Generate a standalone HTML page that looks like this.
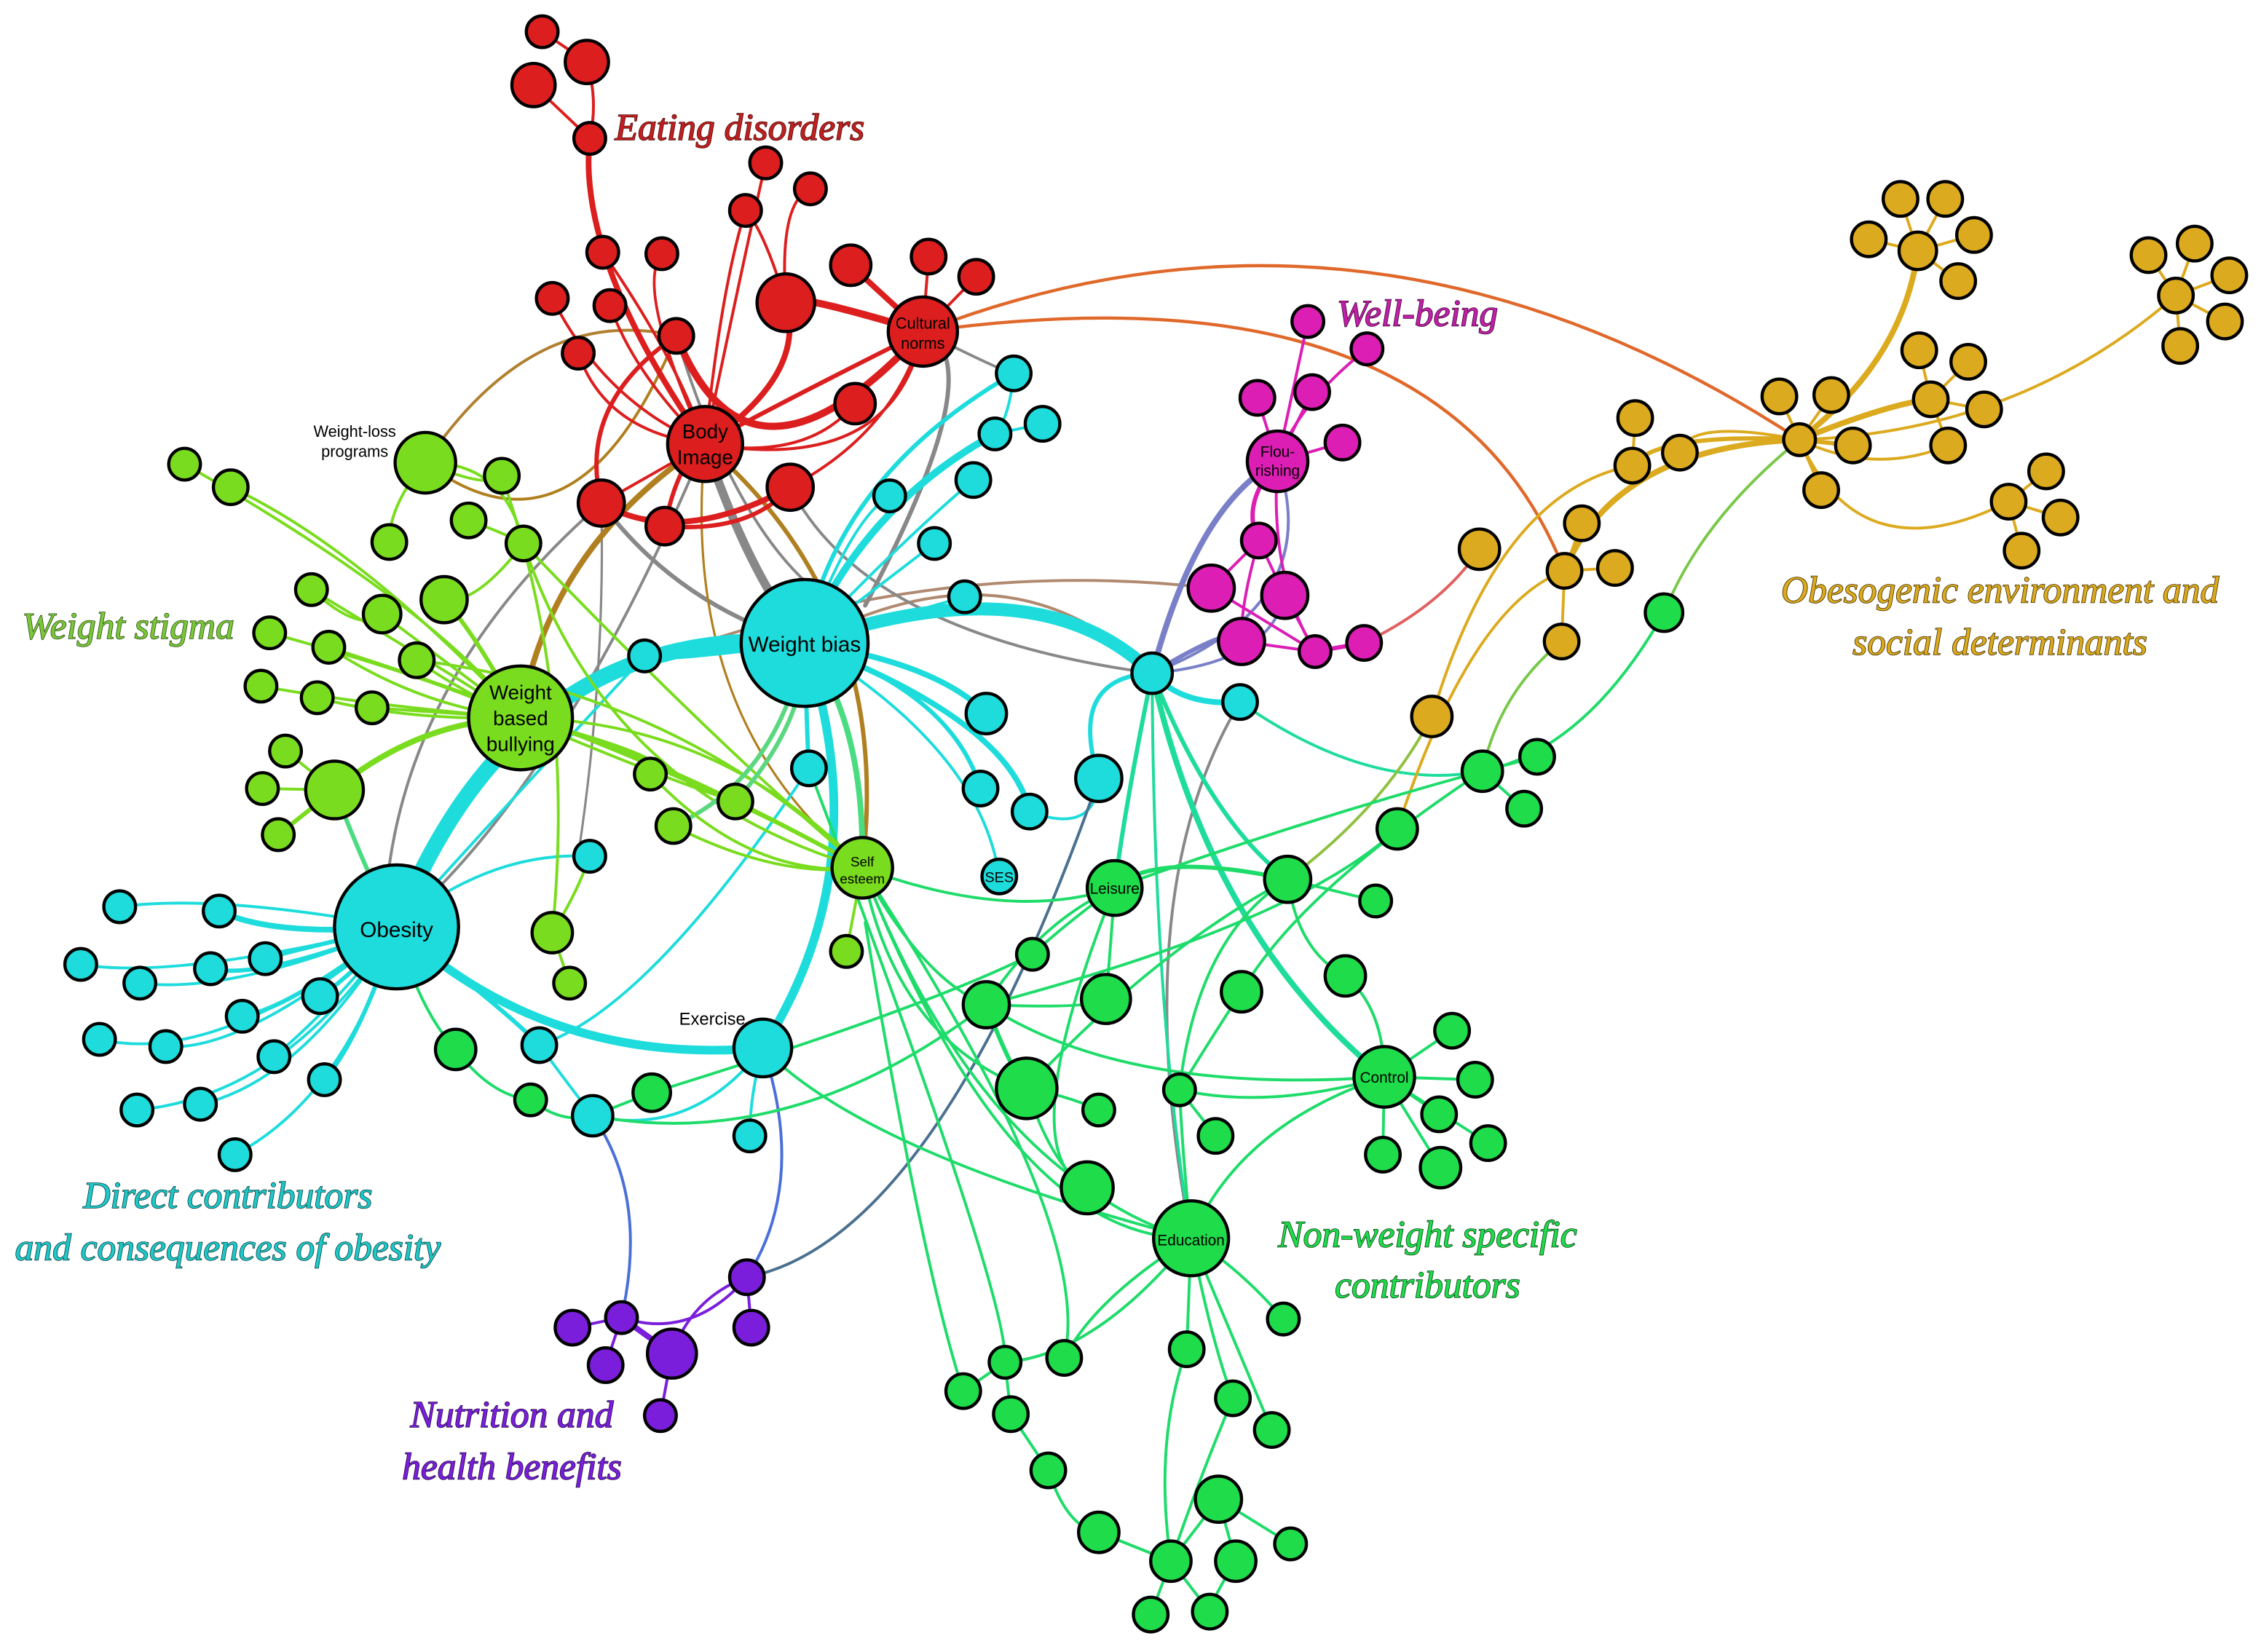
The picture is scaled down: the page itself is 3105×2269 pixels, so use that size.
<!DOCTYPE html>
<html><head><meta charset="utf-8"><style>
html,body{margin:0;padding:0;background:#fff;}
svg{display:block;}
.n{stroke:#000;stroke-width:2.2;}
.R{fill:#dc1e1e}.M{fill:#dc1eb4}.G{fill:#dcaa1e}.C{fill:#1edcdc}.L{fill:#7adc1e}.E{fill:#1edc4a}.P{fill:#7a1edc}
.t{font-family:"Liberation Sans",sans-serif;fill:#000;text-anchor:middle;}
.lab{font-family:"Liberation Serif",serif;font-style:italic;text-anchor:middle;stroke-width:0.8;paint-order:stroke;}
path{fill:none;}
</style></head><body>
<svg width="3105" height="2269" viewBox="0 0 1568 1146" preserveAspectRatio="none" xmlns="http://www.w3.org/2000/svg">
<!-- edges -->
<g stroke-linecap="round">
<!-- orange long -->
<path d="M640,230 Q950,110 1248,305" stroke="#e0682a" stroke-width="2.2"/>
<path d="M640,230 Q1000,180 1085,396" stroke="#e0682a" stroke-width="2.2"/>
<path d="M295,321 Q370,210 469,233" stroke="#b08030" stroke-width="2"/>
<path d="M799,467 Q700,370 558,446" stroke="#b08a70" stroke-width="2"/>
<path d="M361,498 Q600,380 840,408" stroke="#b08a70" stroke-width="2"/>
<!-- gray -->
<path d="M489,308 Q520,400 558,446" stroke="#888" stroke-width="6"/>
<path d="M640,230 Q690,250 600,420" stroke="#888" stroke-width="3"/>
<path d="M640,230 Q700,260 703,259" stroke="#888" stroke-width="2"/>
<path d="M417,349 Q470,420 558,446" stroke="#888" stroke-width="3"/>
<path d="M417,349 Q290,460 270,600" stroke="#888" stroke-width="2"/>
<path d="M469,233 Q520,400 600,430" stroke="#888" stroke-width="2"/>
<path d="M548,338 Q600,440 799,467" stroke="#888" stroke-width="2"/>
<path d="M489,308 Q400,520 300,620" stroke="#888" stroke-width="2"/>
<path d="M860,487 Q780,620 826,859" stroke="#888" stroke-width="2"/>
<path d="M417,349 Q420,470 400,600" stroke="#888" stroke-width="1.6"/>
<!-- brown thick -->
<path d="M489,308 Q380,380 361,498" stroke="#b08020" stroke-width="4"/>
<path d="M489,308 Q620,420 598,602" stroke="#b08020" stroke-width="3"/>
<path d="M295,321 Q400,400 469,233" stroke="#b08020" stroke-width="2"/>
<path d="M489,308 Q470,500 598,602" stroke="#b08020" stroke-width="1.6"/>
<!-- red -->
<g stroke="#dc1e1e" stroke-width="2">
<path d="M409,96 Q400,180 489,308" stroke-width="4"/>
<path d="M376,22 L407,43"/><path d="M370,59 L409,96"/><path d="M407,43 Q415,70 409,96"/>
<path d="M545,210 Q560,260 489,308" stroke-width="4"/>
<path d="M640,230 Q540,280 489,308" stroke-width="3"/>
<path d="M640,230 Q540,200 545,210" stroke-width="5"/>
<path d="M469,233 Q520,360 640,230" stroke-width="5"/>
<path d="M640,230 L590,184" stroke-width="4"/><path d="M640,230 L644,178"/><path d="M640,230 L677,192"/>
<path d="M640,230 Q620,330 489,308"/><path d="M593,280 Q560,320 489,308"/>
<path d="M548,338 Q620,300 640,230"/>
<path d="M489,308 Q470,250 418,175"/><path d="M489,308 Q420,280 383,207"/><path d="M489,308 Q420,300 401,245"/>
<path d="M489,308 Q440,260 423,212"/><path d="M489,308 Q440,200 459,176"/>
<path d="M489,308 Q520,160 531,113"/><path d="M489,308 Q500,200 517,146"/><path d="M545,210 Q540,140 562,131"/>
<path d="M545,210 Q530,160 517,146"/>
<path d="M417,349 Q400,280 469,233" stroke-width="3"/>
<path d="M417,349 Q470,380 548,338" stroke-width="4"/>
<path d="M461,365 Q470,320 489,308" stroke-width="3"/>
<path d="M417,349 L489,308"/><path d="M461,365 Q520,370 548,338" stroke-width="3"/>
</g>
<!-- cyan thick -->
<g stroke="#1edcdc">
<path d="M275,643 Q360,430 558,446" stroke-width="11"/>
<path d="M558,446 Q720,390 799,467" stroke-width="9"/>
<path d="M558,446 Q610,600 529,727" stroke-width="6"/>
<path d="M275,643 Q380,740 529,727" stroke-width="6"/>
<path d="M275,643 Q350,700 374,725" stroke-width="3"/>
<path d="M558,446 Q580,330 703,259" stroke-width="3"/>
<path d="M558,446 Q600,350 690,301" stroke-width="5"/>
<path d="M558,446 Q620,380 675,333" stroke-width="2"/>
<path d="M558,446 Q590,360 617,344" stroke-width="2"/>
<path d="M558,446 L648,377" stroke-width="2"/><path d="M558,446 L669,414" stroke-width="2"/>
<path d="M558,446 Q650,460 684,495" stroke-width="4"/>
<path d="M558,446 Q660,480 680,547" stroke-width="3"/>
<path d="M558,446 Q700,500 714,563" stroke-width="4"/>
<path d="M558,446 Q450,460 447,455" stroke-width="3"/>
<path d="M558,446 Q560,520 561,533" stroke-width="3"/>
<path d="M558,446 Q680,520 693,608" stroke-width="2"/>
<path d="M799,467 Q820,490 860,487" stroke-width="4"/>
<path d="M762,540 Q740,470 799,467" stroke-width="3"/>
<path d="M714,563 Q760,580 762,540" stroke-width="2"/>
<path d="M703,259 Q700,290 690,301" stroke-width="2"/><path d="M723,294 L690,301" stroke-width="2"/>
<path d="M275,643 Q350,560 447,455" stroke-width="2"/>
<path d="M275,643 Q340,590 409,594" stroke-width="2"/>
<path d="M374,725 Q450,700 561,533" stroke-width="2"/>
<path d="M374,725 Q400,760 411,774" stroke-width="2"/>
<path d="M411,774 Q480,790 529,727" stroke-width="2"/>
<path d="M529,727 Q520,760 520,788" stroke-width="2"/>
<path d="M860,487 Q950,550 1028,535" stroke-width="2" stroke="#1edc9a"/>
<path d="M275,643 Q150,620 83,629" stroke-width="2"/>
<path d="M275,643 Q190,650 152,632" stroke-width="4"/>
<path d="M275,643 Q120,680 56,669" stroke-width="2"/>
<path d="M275,643 Q160,690 97,682" stroke-width="2"/>
<path d="M275,643 Q180,680 146,672" stroke-width="3"/>
<path d="M275,643 Q200,660 184,665" stroke-width="3"/>
<path d="M275,643 Q240,680 222,691" stroke-width="3"/>
<path d="M275,643 Q200,700 168,705" stroke-width="3"/>
<path d="M275,643 Q150,740 69,721" stroke-width="2"/>
<path d="M275,643 Q170,730 115,726" stroke-width="2"/>
<path d="M275,643 Q230,700 190,733" stroke-width="2"/>
<path d="M275,643 Q250,720 225,749" stroke-width="3"/>
<path d="M275,643 Q200,760 95,770" stroke-width="2"/>
<path d="M275,643 Q210,750 139,766" stroke-width="2"/>
<path d="M275,643 Q240,760 163,801" stroke-width="2"/>
</g>
<!-- blue/purple -->
<path d="M799,467 Q830,350 886,320" stroke="#7a80c8" stroke-width="4"/>
<path d="M799,467 Q860,430 861,445" stroke="#7a80c8" stroke-width="3"/>
<path d="M799,467 Q880,460 891,413" stroke="#7a80c8" stroke-width="2"/>
<path d="M799,467 Q920,420 886,320" stroke="#7a80c8" stroke-width="2"/>
<path d="M411,774 Q450,830 431,914" stroke="#4a70d8" stroke-width="2"/>
<path d="M529,727 Q560,820 518,886" stroke="#4a70d8" stroke-width="2"/>
<path d="M518,886 Q650,860 762,540" stroke="#4a7090" stroke-width="2"/>
<g stroke="#7a1edc" stroke-width="2">
<path d="M431,914 Q480,930 518,886"/><path d="M431,914 L466,939" stroke-width="4"/>
<path d="M397,921 L431,914"/><path d="M420,947 L431,914"/><path d="M466,939 Q480,900 518,886"/>
<path d="M518,886 L521,921"/><path d="M466,939 L458,982"/>
</g>
<!-- magenta -->
<g stroke="#dc1eb4" stroke-width="2">
<path d="M886,320 L907,223"/><path d="M886,320 Q900,280 948,242"/><path d="M886,320 L872,276"/><path d="M886,320 L910,272"/>
<path d="M886,320 L931,307"/><path d="M886,320 Q860,350 873,375" stroke-width="3"/>
<path d="M873,375 L840,408"/><path d="M873,375 L891,413"/><path d="M873,375 Q860,420 861,445"/>
<path d="M840,408 L912,452"/><path d="M891,413 L912,452"/><path d="M861,445 L912,452"/><path d="M912,452 L946,446" stroke-width="3"/>
<path d="M886,320 Q880,400 912,452"/>
</g>
<path d="M946,446 Q1000,420 1026,381" stroke="#e06060" stroke-width="2"/>
<!-- gold -->
<g stroke="#dcaa1e" stroke-width="2">
<path d="M1248,305 Q1320,250 1330,174" stroke-width="4"/>
<path d="M1330,174 L1318,138"/><path d="M1330,174 L1349,138"/><path d="M1330,174 L1296,166"/><path d="M1330,174 L1369,163"/><path d="M1330,174 L1358,195"/>
<path d="M1248,305 Q1310,280 1339,277" stroke-width="4"/>
<path d="M1339,277 L1331,243"/><path d="M1339,277 L1365,251"/><path d="M1339,277 L1376,284"/><path d="M1339,277 L1351,309"/>
<path d="M1248,305 Q1300,330 1351,309"/>
<path d="M1248,305 Q1400,300 1509,205"/>
<path d="M1509,205 L1490,177"/><path d="M1509,205 L1522,169"/><path d="M1509,205 L1546,191"/><path d="M1509,205 L1543,223"/><path d="M1509,205 L1512,240"/>
<path d="M1248,305 L1234,275"/><path d="M1248,305 L1270,274"/><path d="M1248,305 L1285,309" stroke-width="3"/><path d="M1248,305 L1263,340"/>
<path d="M1248,305 Q1290,400 1393,348"/>
<path d="M1393,348 L1419,327"/><path d="M1393,348 L1429,359"/><path d="M1393,348 L1402,382"/>
<path d="M1248,305 Q1150,300 1132,323" stroke-width="3"/>
<path d="M1248,305 Q1170,290 1165,314" stroke-width="2"/>
<path d="M1132,323 L1134,290"/>
<path d="M1248,305 Q1120,310 1085,396" stroke-width="4"/>
<path d="M1097,363 L1085,396"/><path d="M1120,394 L1085,396"/><path d="M1085,396 L1083,445"/>
<path d="M1132,323 Q1040,340 993,497"/>
<path d="M1085,396 Q1020,420 969,575"/>
</g>
<path d="M1248,305 Q1180,360 1154,425" stroke="#7ac84a" stroke-width="2"/>
<path d="M1083,445 Q1040,480 1028,535" stroke="#7ac84a" stroke-width="2"/>
<path d="M893,610 Q960,560 993,497" stroke="#90c040" stroke-width="2"/>
<!-- emerald green -->
<g stroke="#1edc6a" stroke-width="2">
<path d="M799,467 Q840,650 960,747" stroke="#1edc9a" stroke-width="4"/>
<path d="M799,467 Q780,560 773,616" stroke="#1edc9a" stroke-width="3"/>
<path d="M799,467 Q840,570 893,610" stroke="#1edc9a" stroke-width="3"/>
<path d="M799,467 Q800,700 826,859" stroke="#1edc9a" stroke-width="2"/>
<path d="M1154,425 Q1100,520 1028,535"/><path d="M1028,535 L1066,525"/><path d="M1028,535 L1057,561"/>
<path d="M1028,535 Q900,570 773,616"/><path d="M1028,535 Q900,620 861,688"/>
<path d="M969,575 Q900,640 684,697"/>
<path d="M893,610 L954,625"/><path d="M893,610 Q900,660 933,677"/><path d="M893,610 Q800,590 773,616" stroke-width="3"/>
<path d="M893,610 Q830,650 818,756"/><path d="M893,610 Q800,660 712,755"/>
<path d="M933,677 Q960,700 960,747"/>
<path d="M773,616 Q720,640 684,697"/><path d="M773,616 Q770,660 767,693"/><path d="M773,616 Q740,640 716,662"/>
<path d="M773,616 Q700,800 754,824"/>
<path d="M684,697 Q760,700 767,693"/><path d="M684,697 Q700,740 712,755" stroke-width="3"/>
<path d="M684,697 Q780,760 960,747"/>
<path d="M712,755 Q740,760 762,770"/><path d="M712,755 Q730,810 754,824"/>
<path d="M818,756 L843,788"/><path d="M818,756 Q820,800 826,859"/>
<path d="M818,756 Q880,770 960,747"/><path d="M861,688 Q840,720 818,756"/>
<path d="M960,747 L1007,715"/><path d="M960,747 L1023,749"/><path d="M960,747 L998,773"/><path d="M960,747 L1032,793"/><path d="M960,747 L959,801"/><path d="M960,747 L999,810"/>
<path d="M960,747 Q860,780 826,859"/>
<path d="M826,859 Q860,880 890,915"/>
<path d="M826,859 Q760,900 738,942"/><path d="M826,859 L823,936"/><path d="M826,859 Q840,930 855,970"/>
<path d="M826,859 Q860,940 882,992"/>
<path d="M826,859 Q760,940 697,945"/>
<path d="M754,824 Q790,850 826,859"/>
<path d="M697,945 L668,965"/><path d="M697,945 L701,981"/><path d="M701,981 L727,1020"/>
<path d="M855,970 Q830,1030 812,1083"/><path d="M823,936 Q800,1000 812,1083"/>
<path d="M845,1040 L857,1083"/><path d="M845,1040 L812,1083"/><path d="M845,1040 L895,1071"/>
<path d="M812,1083 L798,1120"/><path d="M812,1083 L839,1118"/><path d="M762,1063 L812,1083"/>
<path d="M727,1020 Q740,1060 762,1063"/><path d="M857,1083 Q840,1110 839,1118"/>
<path d="M598,602 Q700,640 773,616"/><path d="M598,602 Q640,680 684,697"/>
<path d="M598,602 Q660,760 754,824"/><path d="M598,602 Q700,860 826,859"/>
<path d="M598,602 Q620,720 712,755"/>
<path d="M529,727 Q600,800 826,859"/>
<path d="M411,774 Q550,800 684,697"/>
<path d="M452,758 Q640,700 716,662"/>
<path d="M316,728 Q340,760 368,763"/><path d="M368,763 Q390,780 411,774"/><path d="M411,774 L452,758"/>
<path d="M275,643 Q290,700 316,728"/>
<path d="M561,533 Q700,900 697,945"/>
<path d="M598,602 Q760,850 738,942"/>
<path d="M668,965 Q640,880 600,640"/>
</g>
<!-- lime -->
<g stroke="#7adc1e" stroke-width="2">
<path d="M361,498 Q300,420 128,322"/><path d="M361,498 Q250,380 160,338"/>
<path d="M361,498 Q300,460 216,409"/><path d="M361,498 Q300,470 187,439"/>
<path d="M361,498 Q290,490 228,449"/><path d="M361,498 Q260,490 181,476"/>
<path d="M361,498 Q280,500 220,484"/><path d="M361,498 L258,491"/>
<path d="M361,498 Q330,440 308,416" stroke-width="3"/><path d="M361,498 L265,426"/>
<path d="M361,498 Q320,480 289,458"/><path d="M361,498 Q290,500 232,548" stroke-width="4"/>
<path d="M232,548 L198,521"/><path d="M232,548 L182,547"/><path d="M232,548 L193,579" stroke-width="3"/>
<path d="M295,321 Q350,320 363,377"/><path d="M295,321 Q340,340 348,330"/><path d="M295,321 Q270,350 270,376"/>
<path d="M363,377 Q330,420 308,416"/><path d="M325,361 Q350,370 363,377"/>
<path d="M363,377 Q500,520 598,602"/><path d="M363,377 Q420,550 598,602"/>
<path d="M348,330 Q400,480 383,647"/>
<path d="M361,498 Q450,520 598,602" stroke-width="3"/>
<path d="M361,498 Q500,500 598,602"/>
<path d="M361,498 Q480,530 451,537" stroke-width="3"/>
<path d="M361,498 Q460,540 510,556"/>
<path d="M289,458 Q470,480 598,602"/>
<path d="M228,449 Q450,520 598,602"/>
<path d="M467,573 Q540,540 558,446" stroke="#5ad880" stroke-width="3"/>
<path d="M510,556 Q560,500 558,446" stroke="#5ad880" stroke-width="3"/>
<path d="M451,537 Q520,610 598,602"/><path d="M467,573 Q540,610 598,602"/>
<path d="M598,602 L587,660"/><path d="M598,602 Q600,500 558,446" stroke="#4adc80" stroke-width="4"/>
<path d="M383,647 L395,682"/><path d="M409,594 Q400,620 383,647"/>
<path d="M232,548 Q260,620 275,643" stroke="#4adc80" stroke-width="3"/>
<path d="M216,409 Q250,440 265,426"/>
</g>
</g>
<!-- nodes -->
<g class="n">
<g class="R">
<circle cx="376" cy="22" r="11"/><circle cx="407" cy="43" r="15"/><circle cx="370" cy="59" r="15"/><circle cx="409" cy="96" r="11"/>
<circle cx="531" cy="113" r="11"/><circle cx="562" cy="131" r="11"/><circle cx="517" cy="146" r="11"/><circle cx="418" cy="175" r="11"/>
<circle cx="459" cy="176" r="11"/><circle cx="590" cy="184" r="14"/><circle cx="644" cy="178" r="12"/><circle cx="677" cy="192" r="12"/>
<circle cx="545" cy="210" r="20"/><circle cx="383" cy="207" r="11"/><circle cx="423" cy="212" r="11"/><circle cx="401" cy="245" r="11"/>
<circle cx="469" cy="233" r="12"/><circle cx="640" cy="230" r="24"/><circle cx="593" cy="280" r="14"/><circle cx="489" cy="308" r="26"/>
<circle cx="417" cy="349" r="16"/><circle cx="548" cy="338" r="16"/><circle cx="461" cy="365" r="13"/>
</g>
<g class="M">
<circle cx="907" cy="223" r="11"/><circle cx="948" cy="242" r="11"/><circle cx="872" cy="276" r="12"/><circle cx="910" cy="272" r="12"/>
<circle cx="931" cy="307" r="12"/><circle cx="886" cy="320" r="21"/><circle cx="873" cy="375" r="12"/><circle cx="840" cy="408" r="16"/>
<circle cx="891" cy="413" r="16"/><circle cx="861" cy="445" r="16"/><circle cx="912" cy="452" r="11"/><circle cx="946" cy="446" r="12"/>
</g>
<g class="G">
<circle cx="1318" cy="138" r="12"/><circle cx="1349" cy="138" r="12"/><circle cx="1296" cy="166" r="12"/><circle cx="1369" cy="163" r="12"/>
<circle cx="1330" cy="174" r="13"/><circle cx="1358" cy="195" r="12"/><circle cx="1490" cy="177" r="12"/><circle cx="1522" cy="169" r="12"/>
<circle cx="1546" cy="191" r="12"/><circle cx="1509" cy="205" r="12"/><circle cx="1543" cy="223" r="12"/><circle cx="1512" cy="240" r="12"/>
<circle cx="1331" cy="243" r="12"/><circle cx="1365" cy="251" r="12"/><circle cx="1234" cy="275" r="12"/><circle cx="1270" cy="274" r="12"/>
<circle cx="1339" cy="277" r="12"/><circle cx="1376" cy="284" r="12"/><circle cx="1134" cy="290" r="12"/><circle cx="1165" cy="314" r="12"/>
<circle cx="1248" cy="305" r="11"/><circle cx="1285" cy="309" r="12"/><circle cx="1351" cy="309" r="12"/><circle cx="1132" cy="323" r="12"/>
<circle cx="1263" cy="340" r="12"/><circle cx="1419" cy="327" r="12"/><circle cx="1393" cy="348" r="12"/><circle cx="1429" cy="359" r="12"/>
<circle cx="1402" cy="382" r="12"/><circle cx="1097" cy="363" r="12"/><circle cx="1026" cy="381" r="14"/><circle cx="1085" cy="396" r="12"/>
<circle cx="1120" cy="394" r="12"/><circle cx="1083" cy="445" r="12"/><circle cx="993" cy="497" r="14"/>
</g>
<g class="C">
<circle cx="703" cy="259" r="12"/><circle cx="723" cy="294" r="12"/><circle cx="690" cy="301" r="11"/><circle cx="675" cy="333" r="12"/>
<circle cx="617" cy="344" r="11"/><circle cx="648" cy="377" r="11"/><circle cx="669" cy="414" r="11"/><circle cx="558" cy="446" r="44"/>
<circle cx="447" cy="455" r="11"/><circle cx="799" cy="467" r="14"/><circle cx="860" cy="487" r="12"/><circle cx="684" cy="495" r="14"/>
<circle cx="762" cy="540" r="16"/><circle cx="561" cy="533" r="12"/><circle cx="680" cy="547" r="12"/><circle cx="714" cy="563" r="12"/>
<circle cx="409" cy="594" r="11"/><circle cx="693" cy="608" r="12"/><circle cx="275" cy="643" r="43"/>
<circle cx="83" cy="629" r="11"/><circle cx="152" cy="632" r="11"/><circle cx="56" cy="669" r="11"/><circle cx="97" cy="682" r="11"/>
<circle cx="146" cy="672" r="11"/><circle cx="184" cy="665" r="11"/><circle cx="222" cy="691" r="12"/><circle cx="168" cy="705" r="11"/>
<circle cx="69" cy="721" r="11"/><circle cx="115" cy="726" r="11"/><circle cx="190" cy="733" r="11"/><circle cx="225" cy="749" r="11"/>
<circle cx="95" cy="770" r="11"/><circle cx="139" cy="766" r="11"/><circle cx="163" cy="801" r="11"/><circle cx="374" cy="725" r="12"/>
<circle cx="529" cy="727" r="20"/><circle cx="411" cy="774" r="14"/><circle cx="520" cy="788" r="11"/>
</g>
<g class="L">
<circle cx="295" cy="321" r="21"/><circle cx="128" cy="322" r="11"/><circle cx="160" cy="338" r="12"/><circle cx="348" cy="330" r="12"/>
<circle cx="325" cy="361" r="12"/><circle cx="363" cy="377" r="12"/><circle cx="270" cy="376" r="12"/><circle cx="216" cy="409" r="11"/>
<circle cx="308" cy="416" r="16"/><circle cx="265" cy="426" r="13"/><circle cx="187" cy="439" r="11"/><circle cx="228" cy="449" r="11"/>
<circle cx="289" cy="458" r="12"/><circle cx="181" cy="476" r="11"/><circle cx="220" cy="484" r="11"/><circle cx="258" cy="491" r="11"/>
<circle cx="361" cy="498" r="36"/><circle cx="198" cy="521" r="11"/><circle cx="232" cy="548" r="20"/><circle cx="182" cy="547" r="11"/>
<circle cx="193" cy="579" r="11"/><circle cx="451" cy="537" r="11"/><circle cx="510" cy="556" r="12"/><circle cx="467" cy="573" r="12"/>
<circle cx="598" cy="602" r="21"/><circle cx="383" cy="647" r="14"/><circle cx="587" cy="660" r="11"/><circle cx="395" cy="682" r="11"/>
</g>
<g class="E">
<circle cx="1154" cy="425" r="13"/><circle cx="1028" cy="535" r="14"/><circle cx="1066" cy="525" r="12"/><circle cx="1057" cy="561" r="12"/>
<circle cx="969" cy="575" r="14"/><circle cx="893" cy="610" r="16"/><circle cx="954" cy="625" r="11"/><circle cx="773" cy="616" r="19"/>
<circle cx="716" cy="662" r="11"/><circle cx="933" cy="677" r="14"/><circle cx="861" cy="688" r="14"/><circle cx="684" cy="697" r="16"/>
<circle cx="767" cy="693" r="17"/><circle cx="316" cy="728" r="14"/><circle cx="368" cy="763" r="11"/><circle cx="452" cy="758" r="13"/>
<circle cx="712" cy="755" r="21"/><circle cx="762" cy="770" r="11"/><circle cx="818" cy="756" r="11"/><circle cx="843" cy="788" r="12"/>
<circle cx="960" cy="747" r="21"/><circle cx="1007" cy="715" r="12"/><circle cx="1023" cy="749" r="12"/><circle cx="998" cy="773" r="12"/>
<circle cx="1032" cy="793" r="12"/><circle cx="959" cy="801" r="12"/><circle cx="999" cy="810" r="14"/><circle cx="754" cy="824" r="18"/>
<circle cx="826" cy="859" r="26"/><circle cx="890" cy="915" r="11"/><circle cx="697" cy="945" r="11"/><circle cx="738" cy="942" r="12"/>
<circle cx="668" cy="965" r="12"/><circle cx="701" cy="981" r="12"/><circle cx="823" cy="936" r="12"/><circle cx="855" cy="970" r="12"/>
<circle cx="882" cy="992" r="12"/><circle cx="727" cy="1020" r="12"/><circle cx="845" cy="1040" r="16"/><circle cx="762" cy="1063" r="14"/>
<circle cx="812" cy="1083" r="14"/><circle cx="857" cy="1083" r="14"/><circle cx="895" cy="1071" r="11"/><circle cx="798" cy="1120" r="12"/>
<circle cx="839" cy="1118" r="12"/>
</g>
<g class="P">
<circle cx="518" cy="886" r="12"/><circle cx="431" cy="914" r="11"/><circle cx="397" cy="921" r="12"/><circle cx="521" cy="921" r="12"/>
<circle cx="466" cy="939" r="17"/><circle cx="420" cy="947" r="12"/><circle cx="458" cy="982" r="11"/>
</g>
</g>
<!-- node labels -->
<g class="t">
<text x="489" y="304" font-size="14">Body</text><text x="489" y="322" font-size="14">Image</text>
<text x="640" y="228" font-size="11">Cultural</text><text x="640" y="242" font-size="11">norms</text>
<text x="886" y="317" font-size="10.5">Flou-</text><text x="886" y="330" font-size="10.5">rishing</text>
<text x="558" y="452" font-size="15">Weight bias</text>
<text x="275" y="650" font-size="15">Obesity</text>
<text x="361" y="485" font-size="14">Weight</text><text x="361" y="503" font-size="14">based</text><text x="361" y="521" font-size="14">bullying</text>
<text x="598" y="601" font-size="9.5">Self</text><text x="598" y="613" font-size="9.5">esteem</text>
<text x="693" y="612" font-size="10">SES</text>
<text x="773" y="620" font-size="10.5">Leisure</text>
<text x="960" y="751" font-size="10.5">Control</text>
<text x="826" y="864" font-size="10.5">Education</text>
<text x="494" y="711" font-size="12">Exercise</text>
<text x="246" y="303" font-size="11">Weight-loss</text><text x="246" y="317" font-size="11">programs</text>
</g>
<!-- group labels -->
<text class="lab" x="513" y="97" font-size="26" fill="#c02020" stroke="#4a0808">Eating disorders</text>
<text class="lab" x="983" y="226" font-size="26" fill="#c020a8" stroke="#3a0830">Well-being</text>
<text class="lab" x="89" y="443" font-size="26" fill="#7ac83a" stroke="#2a4a10">Weight stigma</text>
<text class="lab" x="1387" y="418" font-size="26" fill="#dcaa1e" stroke="#3a2a00">Obesogenic environment and</text>
<text class="lab" x="1387" y="454" font-size="26" fill="#dcaa1e" stroke="#3a2a00">social determinants</text>
<text class="lab" x="158" y="838" font-size="26" fill="#1ec8c8" stroke="#0a3a3a">Direct contributors</text>
<text class="lab" x="158" y="874" font-size="26" fill="#1ec8c8" stroke="#0a3a3a">and consequences of obesity</text>
<text class="lab" x="990" y="865" font-size="26" fill="#1edc4a" stroke="#0a3a14">Non-weight specific</text>
<text class="lab" x="990" y="900" font-size="26" fill="#1edc4a" stroke="#0a3a14">contributors</text>
<text class="lab" x="355" y="990" font-size="26" fill="#7a1edc" stroke="#200a40">Nutrition and</text>
<text class="lab" x="355" y="1026" font-size="26" fill="#7a1edc" stroke="#200a40">health benefits</text>
</svg>
</body></html>
